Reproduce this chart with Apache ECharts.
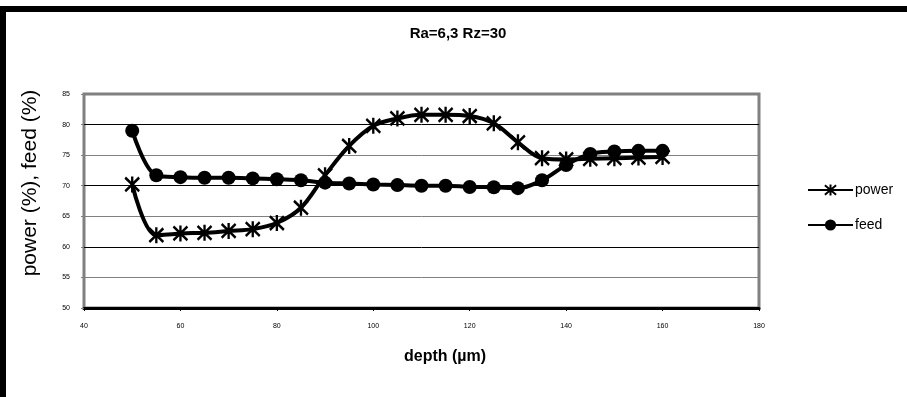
<!DOCTYPE html>
<html>
<head>
<meta charset="utf-8">
<script src="https://cdn.jsdelivr.net/npm/echarts@6/dist/echarts.min.js"></script>
<style>
  html, body { margin: 0; padding: 0; background: #fff; }
  #main { width: 907px; height: 397px; }
</style>
</head>
<body>
<div id="main"></div>
<script>
const depth = [50, 55, 60, 65, 70, 75, 80, 85, 90, 95, 100, 105, 110, 115, 120, 125, 130, 135, 140, 145, 150, 155, 160];
const power = [70.2, 61.9, 62.2, 62.3, 62.6, 62.9, 63.9, 66.4, 71.7, 76.5, 79.8, 81.0, 81.6, 81.6, 81.4, 80.2, 77.1, 74.5, 74.3, 74.4, 74.5, 74.6, 74.7];
const feed = [79.0, 71.7, 71.4, 71.3, 71.3, 71.2, 71.05, 70.9, 70.5, 70.35, 70.2, 70.1, 70.0, 70.0, 69.8, 69.75, 69.6, 70.9, 73.4, 75.2, 75.6, 75.7, 75.7];
const xTicks = [40, 180, 20];
const yTicks = [50, 85, 5];

const font = 'Liberation Sans, Arial, sans-serif';
const asterisk = 'path://M0,-7L0,7M-6,-6L6,6M-6,6L6,-6';

function pairs(xs, ys) {
  return xs.map((x, i) => [x, ys[i]]);
}

const chart = echarts.init(document.getElementById('main'));

chart.setOption({
  animation: false,
  backgroundColor: '#fff',
  title: {
    text: 'Ra=6,3 Rz=30',
    left: 453,
    textAlign: 'center',
    top: 21,
    textStyle: { fontFamily: font, fontSize: 15, fontWeight: 'bold', color: '#000' }
  },
  legend: {
    orient: 'vertical',
    left: 802,
    top: 178,
    itemWidth: 45,
    itemHeight: 14,
    itemGap: 21,
    textStyle: { fontFamily: font, fontSize: 14, color: '#000', padding: [0, 0, 0, -3] },
    data: ['power', 'feed']
  },
  grid: {
    left: 84,
    top: 94,
    right: 148,
    bottom: 89,
    show: true,
    backgroundColor: '#fff',
    borderColor: '#808080',
    borderWidth: 3
  },
  xAxis: {
    type: 'value',
    min: xTicks[0],
    max: xTicks[1],
    interval: xTicks[2],
    axisLine: { show: true, onZero: false, lineStyle: { color: '#000', width: 3 } },
    axisTick: { show: true, length: 3, lineStyle: { color: '#000' } },
    axisLabel: { fontFamily: font, fontSize: 7, color: '#000', margin: 15 },
    splitLine: { show: false }
  },
  yAxis: {
    type: 'value',
    min: yTicks[0],
    max: yTicks[1],
    interval: yTicks[2],
    axisLine: { show: false },
    axisTick: { show: true, length: 3, lineStyle: { color: '#808080' } },
    axisLabel: { fontFamily: font, fontSize: 7, color: '#000', margin: 14 },
    splitLine: { show: true, lineStyle: { color: ['#000', '#808080'], width: 1 } }
  },
  graphic: [
    { type: 'rect', shape: { x: 0, y: 6, width: 907, height: 6 }, style: { fill: '#000' } },
    { type: 'rect', shape: { x: 0, y: 6, width: 6, height: 391 }, style: { fill: '#000' } },
    {
      type: 'text',
      x: 30, y: 183,
      rotation: Math.PI / 2,
      style: {
        text: 'power (%), feed (%)',
        font: '21px ' + font,
        fill: '#000',
        align: 'center',
        verticalAlign: 'middle'
      }
    },
    {
      type: 'text',
      x: 445, y: 357,
      style: {
        text: 'depth (µm)',
        font: 'bold 16px ' + font,
        fill: '#000',
        align: 'center',
        verticalAlign: 'middle'
      }
    }
  ],
  series: [
    {
      name: 'power',
      type: 'line',
      data: pairs(depth, power),
      smooth: 0.35,
      symbol: asterisk,
      symbolSize: [14, 16],
      lineStyle: { color: '#000', width: 4 },
      itemStyle: { color: '#000', borderColor: '#000', borderWidth: 2.5 }
    },
    {
      name: 'feed',
      type: 'line',
      data: pairs(depth, feed),
      smooth: 0.35,
      symbol: 'circle',
      symbolSize: 14,
      lineStyle: { color: '#000', width: 4 },
      itemStyle: { color: '#000' }
    }
  ]
});
</script>
</body>
</html>
